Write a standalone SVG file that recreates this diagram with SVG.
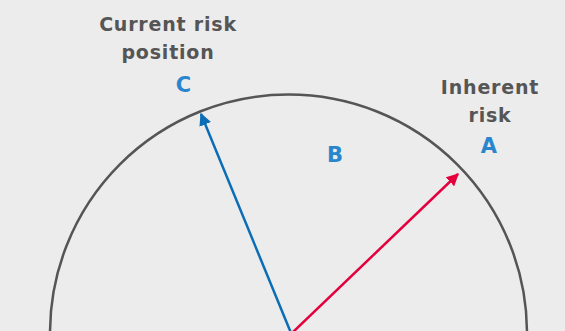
<svg xmlns="http://www.w3.org/2000/svg" width="565" height="331" viewBox="0 0 565 331">
<defs>
<style>
.lbl{font-family:"DejaVu Sans","Liberation Sans",sans-serif;font-weight:bold;font-size:19px;letter-spacing:0.8px;fill:#555;text-anchor:middle}
.let{font-family:"DejaVu Sans","Liberation Sans",sans-serif;font-weight:bold;font-size:21px;fill:#2a86cc;text-anchor:middle}
</style>
<marker id="hb" viewBox="0 0 10 10" refX="9" refY="5" markerWidth="5" markerHeight="5" orient="auto" markerUnits="strokeWidth"><path d="M0,0 L10,5 L0,10 z" fill="#0a6db5"/></marker>
<marker id="hr" viewBox="0 0 10 10" refX="9" refY="5" markerWidth="5" markerHeight="5" orient="auto" markerUnits="strokeWidth"><path d="M0,0 L10,5 L0,10 z" fill="#e4003d"/></marker>
</defs>
<rect width="565" height="331" fill="#ececec"/>
<g id="arc"><path d="M50,333 A238.5,238.5 0 0 1 527,333" fill="none" stroke="#555" stroke-width="2.5"/></g>
<g id="connectors">
<line x1="291" y1="333" x2="201" y2="114" stroke="#0a6db5" stroke-width="2.5" marker-end="url(#hb)"/>
<line x1="292" y1="333" x2="458" y2="174" stroke="#e4003d" stroke-width="2.5" marker-end="url(#hr)"/>
</g>
<g id="nodeC"><text class="lbl" x="168" y="31">Current risk</text><text class="lbl" x="168" y="59">position</text><text class="let" x="183.5" y="92">C</text></g>
<g id="nodeA"><text class="lbl" x="490" y="94">Inherent</text><text class="lbl" x="490" y="122">risk</text><text class="let" x="489" y="153">A</text></g>
<g id="nodeB"><text class="let" x="335" y="162">B</text></g>
</svg>
